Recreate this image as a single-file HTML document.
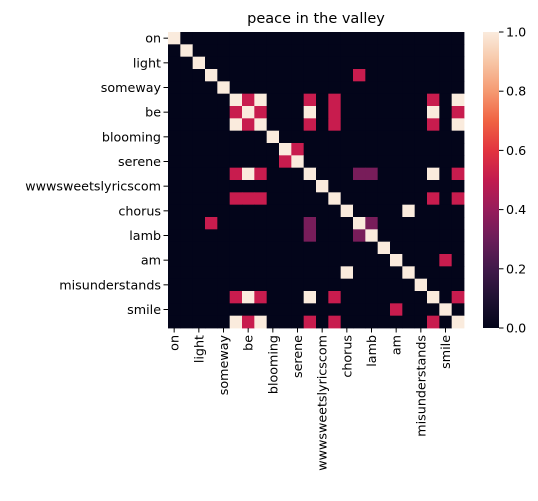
<!DOCTYPE html>
<html><head><meta charset="utf-8"><style>
body{margin:0;background:#fff;width:538px;height:496px;overflow:hidden}
text{font-family:"DejaVu Sans","Liberation Sans",sans-serif;fill:#000}
</style></head><body>
<svg id="chart" width="538" height="496" xmlns="http://www.w3.org/2000/svg">
<defs><linearGradient id="rocket" x1="0" y1="1" x2="0" y2="0">
<stop offset="0" stop-color="#03051a"/><stop offset="0.1" stop-color="#1f1132"/><stop offset="0.2" stop-color="#41194a"/>
<stop offset="0.3" stop-color="#6b1d59"/><stop offset="0.4" stop-color="#971c5b"/><stop offset="0.5" stop-color="#c21b4f"/>
<stop offset="0.6" stop-color="#e2343f"/><stop offset="0.7" stop-color="#f06343"/><stop offset="0.8" stop-color="#f59a72"/>
<stop offset="0.9" stop-color="#f7c6a6"/><stop offset="1" stop-color="#faebdd"/></linearGradient></defs>
<text x="316" y="23" text-anchor="middle" font-size="14.5">peace in the valley</text>
<g id="cells"></g><g id="yt"></g><g id="xt"></g>
<rect x="483" y="32" width="16" height="296" fill="url(#rocket)"/>
<g id="cb"></g>
</svg>
<script>
const labels=["on","x1","light","x3","someway","x5","be","x7","blooming","x9","serene","x11","wwwsweetslyricscom","x13","chorus","x15","lamb","x17","am","x19","misunderstands","x21","smile","x23"];
const rowA=[0,0,0,0,0,1,.5,1,0,0,0,.5,0,.5,0,0,0,0,0,0,0,.5,0,1];
const rowB=[0,0,0,0,0,.5,1,.5,0,0,0,1,0,.5,0,0,0,0,0,0,0,1,0,.5];
const matrix=[
[1,0,0,0,0,0,0,0,0,0,0,0,0,0,0,0,0,0,0,0,0,0,0,0],
[0,1,0,0,0,0,0,0,0,0,0,0,0,0,0,0,0,0,0,0,0,0,0,0],
[0,0,1,0,0,0,0,0,0,0,0,0,0,0,0,0,0,0,0,0,0,0,0,0],
[0,0,0,1,0,0,0,0,0,0,0,0,0,0,0,.5,0,0,0,0,0,0,0,0],
[0,0,0,0,1,0,0,0,0,0,0,0,0,0,0,0,0,0,0,0,0,0,0,0],
rowA,rowB,rowA,
[0,0,0,0,0,0,0,0,1,0,0,0,0,0,0,0,0,0,0,0,0,0,0,0],
[0,0,0,0,0,0,0,0,0,1,.5,0,0,0,0,0,0,0,0,0,0,0,0,0],
[0,0,0,0,0,0,0,0,0,.5,1,0,0,0,0,0,0,0,0,0,0,0,0,0],
[0,0,0,0,0,.5,1,.5,0,0,0,1,0,0,0,.33,.33,0,0,0,0,1,0,.5],
[0,0,0,0,0,0,0,0,0,0,0,0,1,0,0,0,0,0,0,0,0,0,0,0],
[0,0,0,0,0,.5,.5,.5,0,0,0,0,0,1,0,0,0,0,0,0,0,.5,0,.5],
[0,0,0,0,0,0,0,0,0,0,0,0,0,0,1,0,0,0,0,1,0,0,0,0],
[0,0,0,.5,0,0,0,0,0,0,0,.33,0,0,0,1,.33,0,0,0,0,0,0,0],
[0,0,0,0,0,0,0,0,0,0,0,.33,0,0,0,.33,1,0,0,0,0,0,0,0],
[0,0,0,0,0,0,0,0,0,0,0,0,0,0,0,0,0,1,0,0,0,0,0,0],
[0,0,0,0,0,0,0,0,0,0,0,0,0,0,0,0,0,0,1,0,0,0,.5,0],
[0,0,0,0,0,0,0,0,0,0,0,0,0,0,1,0,0,0,0,1,0,0,0,0],
[0,0,0,0,0,0,0,0,0,0,0,0,0,0,0,0,0,0,0,0,1,0,0,0],
rowB,
[0,0,0,0,0,0,0,0,0,0,0,0,0,0,0,0,0,0,.5,0,0,0,1,0],
rowA];
const cbTicks=[0,0.2,0.4,0.6,0.8,1.0];
const NS="http://www.w3.org/2000/svg";
const X0=168,Y0=32,W=296,H=296,n=labels.length,cw=W/n,ch=H/n;
const xPos=i=>X0+i*cw, yPos=i=>Y0+i*ch, cbY=v=>328-v*296;
function color(v){const s=[[0,[3,5,26]],[.1,[31,17,50]],[.2,[65,25,74]],[.3,[107,29,89]],[.4,[151,28,91]],[.5,[200,28,78]],[.6,[226,52,63]],[.7,[240,99,67]],[.8,[245,154,114]],[.9,[247,198,166]],[1,[250,235,221]]];
for(let i=1;i<s.length;i++){if(v<=s[i][0]){const t=(v-s[i-1][0])/(s[i][0]-s[i-1][0]);const c=s[i-1][1].map((a,k)=>Math.round(a+(s[i][1][k]-a)*t));return`rgb(${c})`;}}return"rgb(250,235,221)";}
function mk(tag,attrs,parent,txt){const e=document.createElementNS(NS,tag);for(const k in attrs)e.setAttribute(k,attrs[k]);if(txt!==undefined)e.textContent=txt;document.getElementById(parent).appendChild(e);return e;}
matrix.forEach((row,r)=>row.forEach((v,c)=>{
const e=mk("rect",{x:xPos(c),y:yPos(r),width:cw+0.4,height:ch+0.4,fill:color(v)},"cells");


}));
labels.forEach((l,i)=>{if(i%2)return;
const y=yPos(i)+ch/2;
mk("line",{x1:X0-4.5,x2:X0,y1:y,y2:y,stroke:"#000"},"yt");
const t=mk("text",{x:X0-7,y:y+4.5,"text-anchor":"end","font-size":"12.7"},"yt",l);


const x=xPos(i)+cw/2;
mk("line",{x1:x,x2:x,y1:Y0+H,y2:Y0+H+4.5,stroke:"#000"},"xt");
const u=mk("text",{x:0,y:0,"text-anchor":"end","font-size":"12.7",transform:`translate(${x+4.5},${Y0+H+7}) rotate(-90)`},"xt",l);


});
cbTicks.forEach(v=>{const y=cbY(v);
mk("line",{x1:499,x2:503.5,y1:y,y2:y,stroke:"#000"},"cb");
const t=mk("text",{x:506,y:y+4.5,"font-size":"12.7"},"cb",v.toFixed(1));


});
</script>
</body></html>
